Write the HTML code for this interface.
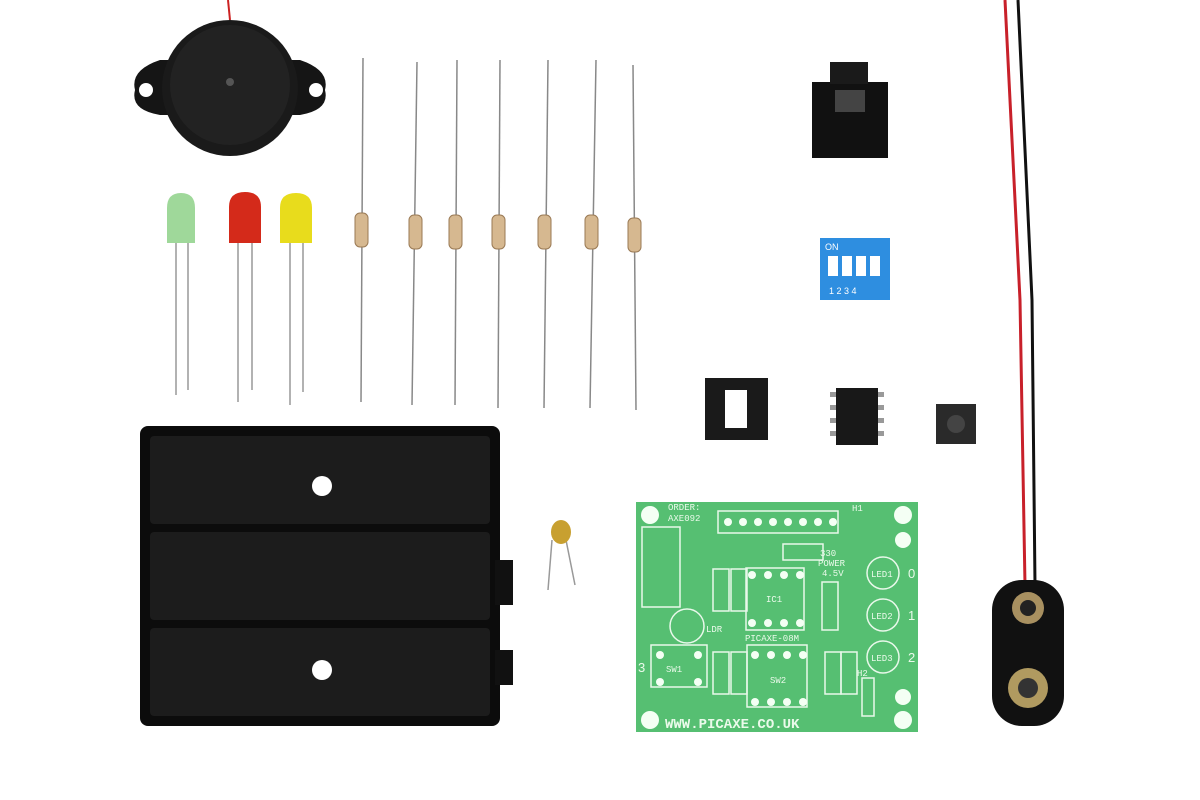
<!DOCTYPE html>
<html><head><meta charset="utf-8"><style>html,body{margin:0;padding:0;background:#fff}svg{display:block}</style></head>
<body>
<svg width="1200" height="800" viewBox="0 0 1200 800" xmlns="http://www.w3.org/2000/svg">
<rect width="1200" height="800" fill="#ffffff"/>
<!-- buzzer -->
<path d="M228 0 L230 20" stroke="#c22" stroke-width="2"/>
<path d="M135 90 Q130 70 160 60 L300 60 Q330 70 325 90 Q330 110 300 115 L160 115 Q130 110 135 90Z" fill="#151515"/>
<ellipse cx="230" cy="88" rx="68" ry="68" fill="#1a1a1a"/>
<ellipse cx="230" cy="85" rx="60" ry="60" fill="#222"/>
<circle cx="146" cy="90" r="7" fill="#fff"/><circle cx="316" cy="90" r="7" fill="#fff"/>
<circle cx="230" cy="82" r="4" fill="#555"/>
<!-- LEDs -->
<g stroke="#999" stroke-width="1.5">
<line x1="176" y1="240" x2="176" y2="395"/><line x1="188" y1="240" x2="188" y2="390"/>
<line x1="238" y1="240" x2="238" y2="402"/><line x1="252" y1="240" x2="252" y2="390"/>
<line x1="290" y1="240" x2="290" y2="405"/><line x1="303" y1="240" x2="303" y2="392"/>
</g>
<path d="M167 243 L167 208 Q167 193 181 193 Q195 193 195 208 L195 243Z" fill="#9fd89a"/>
<path d="M229 243 L229 207 Q229 192 245 192 Q261 192 261 207 L261 243Z" fill="#d42a1a"/>
<path d="M280 243 L280 208 Q280 193 296 193 Q312 193 312 208 L312 243Z" fill="#e8dc1c"/>
<!-- resistors -->
<g stroke="#888" stroke-width="1.5">
<line x1="363" y1="58" x2="361" y2="402"/><line x1="417" y1="62" x2="412" y2="405"/>
<line x1="457" y1="60" x2="455" y2="405"/><line x1="500" y1="60" x2="498" y2="408"/>
<line x1="548" y1="60" x2="544" y2="408"/><line x1="596" y1="60" x2="590" y2="408"/>
<line x1="633" y1="65" x2="636" y2="410"/>
</g>
<g fill="#d6b890" stroke="#9a7a55">
<rect x="355" y="213" width="13" height="34" rx="5"/><rect x="409" y="215" width="13" height="34" rx="5"/>
<rect x="449" y="215" width="13" height="34" rx="5"/><rect x="492" y="215" width="13" height="34" rx="5"/>
<rect x="538" y="215" width="13" height="34" rx="5"/><rect x="585" y="215" width="13" height="34" rx="5"/>
<rect x="628" y="218" width="13" height="34" rx="5"/>
</g>
<!-- battery holder -->
<rect x="140" y="426" width="360" height="300" rx="8" fill="#0c0c0c"/>
<rect x="150" y="436" width="340" height="88" rx="4" fill="#1c1c1c"/>
<rect x="150" y="532" width="340" height="88" rx="4" fill="#1c1c1c"/>
<rect x="150" y="628" width="340" height="88" rx="4" fill="#1c1c1c"/>
<circle cx="322" cy="486" r="10" fill="#fff"/><circle cx="322" cy="670" r="10" fill="#fff"/>
<rect x="495" y="560" width="18" height="45" fill="#111"/><rect x="495" y="650" width="18" height="35" fill="#111"/>
<!-- capacitor -->
<line x1="552" y1="540" x2="548" y2="590" stroke="#999" stroke-width="1.5"/>
<line x1="566" y1="540" x2="575" y2="585" stroke="#999" stroke-width="1.5"/>
<ellipse cx="561" cy="532" rx="10" ry="12" fill="#c8a030"/>
<!-- PCB -->
<rect x="636" y="502" width="282" height="230" fill="#56bf72"/>
<g fill="none" stroke="#e8f8ea" stroke-width="1.5">
<rect x="718" y="511" width="120" height="22"/>
<rect x="746" y="568" width="58" height="62"/>
<rect x="747" y="645" width="60" height="62"/>
<rect x="651" y="645" width="56" height="42"/>
<rect x="642" y="527" width="38" height="80"/>
<circle cx="687" cy="626" r="17"/>
<circle cx="883" cy="573" r="16"/><circle cx="883" cy="615" r="16"/><circle cx="883" cy="657" r="16"/>
<rect x="822" y="582" width="16" height="48"/>
<rect x="713" y="569" width="16" height="42"/><rect x="731" y="569" width="16" height="42"/>
<rect x="713" y="652" width="16" height="42"/><rect x="731" y="652" width="16" height="42"/>
<rect x="825" y="652" width="16" height="42"/><rect x="841" y="652" width="16" height="42"/>
<rect x="862" y="678" width="12" height="38"/>
<rect x="783" y="544" width="40" height="16"/>
</g>
<g fill="#f4fff4">
<circle cx="728" cy="522" r="4"/><circle cx="743" cy="522" r="4"/><circle cx="758" cy="522" r="4"/><circle cx="773" cy="522" r="4"/><circle cx="788" cy="522" r="4"/><circle cx="803" cy="522" r="4"/><circle cx="818" cy="522" r="4"/><circle cx="833" cy="522" r="4"/>
<circle cx="752" cy="575" r="4"/><circle cx="768" cy="575" r="4"/><circle cx="784" cy="575" r="4"/><circle cx="800" cy="575" r="4"/>
<circle cx="752" cy="623" r="4"/><circle cx="768" cy="623" r="4"/><circle cx="784" cy="623" r="4"/><circle cx="800" cy="623" r="4"/>
<circle cx="755" cy="655" r="4"/><circle cx="771" cy="655" r="4"/><circle cx="787" cy="655" r="4"/><circle cx="803" cy="655" r="4"/>
<circle cx="755" cy="702" r="4"/><circle cx="771" cy="702" r="4"/><circle cx="787" cy="702" r="4"/><circle cx="803" cy="702" r="4"/>
<circle cx="660" cy="655" r="4"/><circle cx="698" cy="655" r="4"/><circle cx="660" cy="682" r="4"/><circle cx="698" cy="682" r="4"/>
<circle cx="650" cy="515" r="9"/><circle cx="903" cy="515" r="9"/><circle cx="650" cy="720" r="9"/><circle cx="903" cy="720" r="9"/>
<circle cx="903" cy="540" r="8"/><circle cx="903" cy="697" r="8"/>
</g>
<g font-family="Liberation Mono, monospace" font-size="9" fill="#eafaea">
<text x="668" y="510">ORDER:</text><text x="668" y="521">AXE092</text><text x="852" y="511">H1</text>
<text x="820" y="556">330</text>
<text x="818" y="566">POWER</text><text x="822" y="576">4.5V</text>
<text x="766" y="602">IC1</text><text x="706" y="632">LDR</text>
<text x="745" y="641">PICAXE-08M</text><text x="770" y="683">SW2</text>
<text x="666" y="672">SW1</text><text x="871" y="577">LED1</text><text x="871" y="619">LED2</text><text x="871" y="661">LED3</text>
<text x="857" y="676">H2</text>
</g>
<g font-family="Liberation Sans, sans-serif" font-size="13" fill="#eafaea">
<text x="908" y="578">0</text><text x="908" y="620">1</text><text x="908" y="662">2</text><text x="638" y="672">3</text>
</g>
<text x="665" y="728" font-family="Liberation Mono, monospace" font-size="14" font-weight="bold" fill="#eafaea">WWW.PICAXE.CO.UK</text>
<!-- audio jack -->
<rect x="812" y="82" width="76" height="76" fill="#111"/>
<rect x="830" y="62" width="38" height="22" fill="#1a1a1a"/>
<rect x="835" y="90" width="30" height="22" fill="#444"/>
<!-- DIP switch -->
<rect x="820" y="238" width="70" height="62" fill="#2e8ee0"/>
<g fill="#fff"><rect x="828" y="256" width="10" height="20"/><rect x="842" y="256" width="10" height="20"/><rect x="856" y="256" width="10" height="20"/><rect x="870" y="256" width="10" height="20"/></g>
<g font-family="Liberation Sans, sans-serif" font-size="9" fill="#fff"><text x="825" y="250">ON</text><text x="829" y="294">1 2 3 4</text></g>
<!-- IC socket -->
<rect x="705" y="378" width="63" height="62" fill="#1a1a1a"/>
<rect x="725" y="390" width="22" height="38" fill="#fff"/>
<!-- IC -->
<rect x="836" y="388" width="42" height="57" fill="#181818"/>
<g fill="#999"><rect x="830" y="392" width="6" height="5"/><rect x="830" y="405" width="6" height="5"/><rect x="830" y="418" width="6" height="5"/><rect x="830" y="431" width="6" height="5"/><rect x="878" y="392" width="6" height="5"/><rect x="878" y="405" width="6" height="5"/><rect x="878" y="418" width="6" height="5"/><rect x="878" y="431" width="6" height="5"/></g>
<!-- button -->
<rect x="936" y="404" width="40" height="40" fill="#2a2a2a"/><circle cx="956" cy="424" r="9" fill="#444"/>
<!-- battery snap wires -->
<path d="M1005 0 L1020 300 L1025 585" stroke="#c8202a" stroke-width="3" fill="none"/>
<path d="M1018 0 L1032 300 L1035 585" stroke="#111" stroke-width="3" fill="none"/>
<rect x="992" y="580" width="72" height="146" rx="30" fill="#111"/>
<circle cx="1028" cy="608" r="16" fill="#a89060"/><circle cx="1028" cy="608" r="8" fill="#222"/>
<circle cx="1028" cy="688" r="20" fill="#b09a60"/><circle cx="1028" cy="688" r="10" fill="#333"/>
</svg>
</body></html>
